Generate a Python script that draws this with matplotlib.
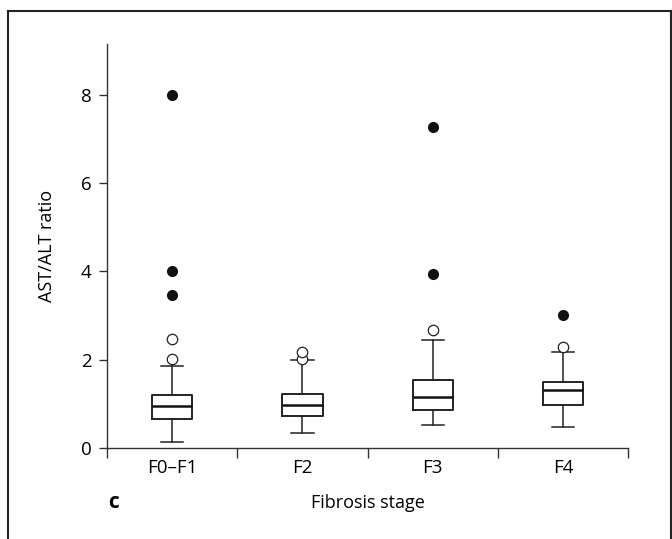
import matplotlib
matplotlib.use("Agg")
import matplotlib.pyplot as plt
from matplotlib.lines import Line2D

categories = ["F0\u2013F1", "F2", "F3", "F4"]
whisker_low = [0.13, 0.35, 0.51, 0.48]
q1 = [0.66, 0.73, 0.85, 0.97]
median = [0.95, 0.97, 1.16, 1.32]
q3 = [1.19, 1.22, 1.54, 1.49]
whisker_high = [1.85, 1.99, 2.44, 2.18]
open_outliers = [[2.01, 2.46], [2.02, 2.18], [2.68], [2.29]]
filled_outliers = [[3.47, 4.01, 8.0], [], [3.94, 7.26], [3.01]]

plt.rcParams['font.family'] = ['Open Sans', 'DejaVu Sans']

fig = plt.figure(figsize=(6.72, 5.39), dpi=100)
ax = fig.add_axes([107/672, 1-448/539, (628.3-107)/672, (448-44)/539])

stats = []
for i in range(len(categories)):
    stats.append(dict(whislo=whisker_low[i], q1=q1[i], med=median[i], q3=q3[i],
                      whishi=whisker_high[i], fliers=[]))
pos = list(range(len(categories)))
ax.bxp(stats, positions=pos, widths=0.31, showfliers=False,
       boxprops=dict(color='#222222', linewidth=1.4),
       medianprops=dict(color='#111111', linewidth=1.8),
       whiskerprops=dict(color='#222222', linewidth=1.1),
       capprops=dict(color='#222222', linewidth=1.1),
       capwidths=0.17)

for i in pos:
    if open_outliers[i]:
        ax.plot([i]*len(open_outliers[i]), open_outliers[i], 'o', mfc='white',
                mec='#222222', mew=0.9, ms=7.5, zorder=3)
    if filled_outliers[i]:
        ax.plot([i]*len(filled_outliers[i]), filled_outliers[i], 'o', mfc='#111111',
                mec='#111111', ms=7.0, zorder=3)

ax.set_xlim(-0.5, 3.5)
ax.set_ylim(0, 9.15)
ax.spines['top'].set_visible(False)
ax.spines['right'].set_visible(False)
for s in ['left', 'bottom']:
    ax.spines[s].set_color('#333333')
    ax.spines[s].set_linewidth(1.0)

ax.set_yticks([0, 2, 4, 6, 8])
ax.set_yticklabels(['0', '2', '4', '6', '8'], fontsize=13.5)
ax.set_xticks([-0.5, 0.5, 1.5, 2.5, 3.5])
ax.set_xticklabels([])
ax.set_xticks(pos, minor=True)
ax.set_xticklabels(categories, minor=True, fontsize=13.5)
ax.tick_params(axis='x', which='minor', length=0, pad=8)
ax.tick_params(axis='x', which='major', length=7, width=1.0, color='#333333', direction='out')
ax.tick_params(axis='y', length=6, width=1.0, color='#333333', direction='out', pad=5)

ax.set_ylabel('AST/ALT ratio', fontsize=13, labelpad=18)
ax.set_xlabel('Fibrosis stage', fontsize=13, labelpad=12)

fig.text(108/672, 1-503/539, 'c', fontsize=15, fontweight='bold', ha='left', va='center')

# outer frame
for (x0, y0, x1, y1) in [(8, 11, 8, 539), (8, 11, 671, 11), (671, 11, 671, 539)]:
    fig.add_artist(Line2D([x0/672, x1/672], [1-y0/539, 1-y1/539], color='#222222', lw=1.5,
                          transform=fig.transFigure))

fig.savefig('out.png', dpi=100, facecolor='white')
